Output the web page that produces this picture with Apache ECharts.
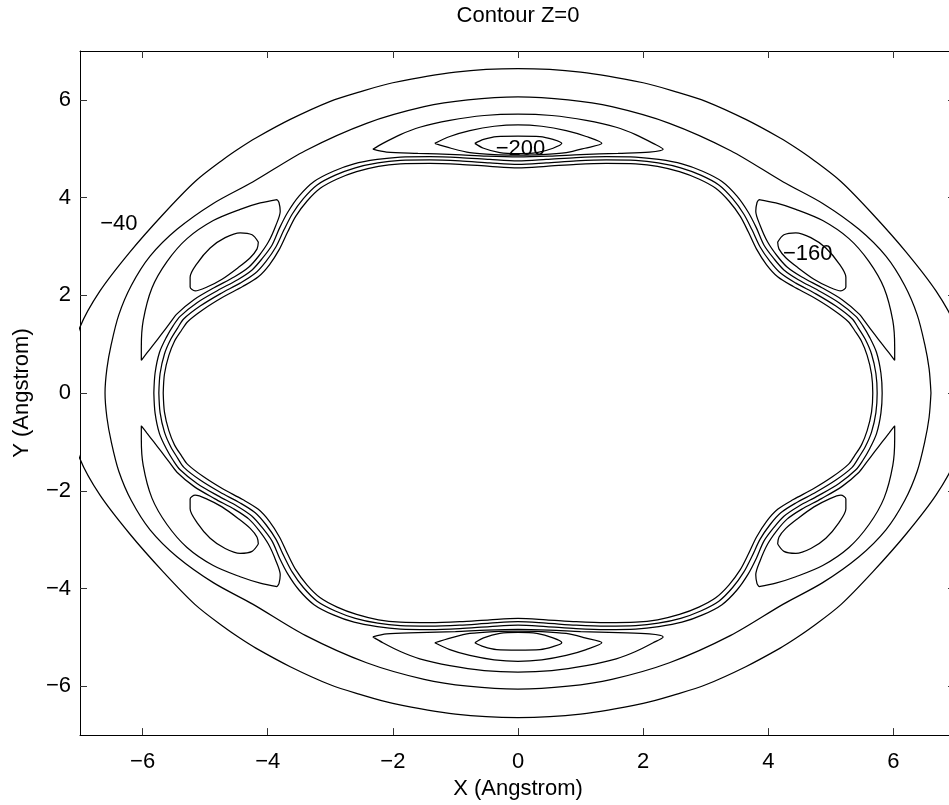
<!DOCTYPE html>
<html>
<head>
<meta charset="utf-8">
<script src="https://cdn.jsdelivr.net/npm/echarts@6/dist/echarts.min.js"></script>
<style>
html,body{margin:0;padding:0;background:#fff;overflow:hidden;width:949px;height:805px;}
#chart{width:1000px;height:805px;}
</style>
</head>
<body>
<div id="chart"></div>
<script>
// Tick values
var xTicks = [-6, -4, -2, 0, 2, 4, 6];
var yTicks = [-6, -4, -2, 0, 2, 4, 6];

// Contour level -40 (outer)
var c40 = [[7.16,0],[7.12,0.7],[7.0,1.35],[6.68,2.09],[6.2,2.89],[5.67,3.66],[5.16,4.33],[4.7,4.79],[4.44,5.02],[4.19,5.22],[3.64,5.6],[3,5.97],[2.54,6.16],[2,6.35],[1,6.57],[0,6.64],
[-1,6.57],[-2,6.35],[-2.54,6.16],[-3,5.97],[-3.64,5.6],[-4.19,5.22],[-4.44,5.02],[-4.7,4.79],[-5.16,4.33],[-5.67,3.66],[-6.2,2.89],[-6.68,2.09],[-7.0,1.35],[-7.12,0.7],[-7.16,0],
[-7.12,-0.7],[-7.0,-1.35],[-6.68,-2.09],[-6.2,-2.89],[-5.67,-3.66],[-5.16,-4.33],[-4.7,-4.79],[-4.44,-5.02],[-4.19,-5.22],[-3.64,-5.6],[-3,-5.97],[-2.54,-6.16],[-2,-6.35],[-1,-6.57],[0,-6.64],
[1,-6.57],[2,-6.35],[2.54,-6.16],[3,-5.97],[3.64,-5.6],[4.19,-5.22],[4.44,-5.02],[4.7,-4.79],[5.16,-4.33],[5.67,-3.66],[6.2,-2.89],[6.68,-2.09],[7.0,-1.35],[7.12,-0.7],[7.16,0]];

// Contour level -80 (ring)
var c80 = [[6.6,0],[6.57,0.5],[6.5,1.0],[6.38,1.6],[6.18,2.2],[5.88,2.8],[5.45,3.35],[4.87,3.88],[4.24,4.32],[3.4,4.96],[2.42,5.52],[1.5,5.86],[0.8,6.0],[0,6.06],
[-0.8,6.0],[-1.5,5.86],[-2.42,5.52],[-3.4,4.96],[-4.24,4.32],[-4.87,3.88],[-5.45,3.35],[-5.88,2.8],[-6.18,2.2],[-6.38,1.6],[-6.5,1.0],[-6.57,0.5],[-6.6,0],
[-6.57,-0.5],[-6.5,-1.0],[-6.38,-1.6],[-6.18,-2.2],[-5.88,-2.8],[-5.45,-3.35],[-4.87,-3.88],[-4.24,-4.32],[-3.4,-4.96],[-2.42,-5.52],[-1.5,-5.86],[-0.8,-6.0],[0,-6.06],
[0.8,-6.0],[1.5,-5.86],[2.42,-5.52],[3.4,-4.96],[4.24,-4.32],[4.87,-3.88],[5.45,-3.35],[5.88,-2.8],[6.18,-2.2],[6.38,-1.6],[6.5,-1.0],[6.57,-0.5],[6.6,0]];

// Inner wall contours (three closely spaced levels)
var wall1 = [[-5.82,0],[-5.8,0.41],[-5.73,0.83],[-5.62,1.14],[-5.51,1.38],[-5.4,1.57],[-5.13,1.85],[-4.8,2.1],[-4.48,2.32],[-4.25,2.52],[-4.09,2.75],[-3.93,3.03],[-3.81,3.38],[-3.68,3.7],[-3.5,4.03],[-3.26,4.33],[-2.95,4.54],[-2.62,4.69],[-2.25,4.78],[-1.88,4.83],[-1.41,4.84],[-0.93,4.82],[-0.45,4.78],[0,4.75],
[0.45,4.78],[0.93,4.82],[1.41,4.84],[1.88,4.83],[2.25,4.78],[2.62,4.69],[2.95,4.54],[3.26,4.33],[3.5,4.03],[3.68,3.7],[3.81,3.38],[3.93,3.03],[4.09,2.75],[4.25,2.52],[4.48,2.32],[4.8,2.1],[5.13,1.85],[5.4,1.57],[5.51,1.38],[5.62,1.14],[5.73,0.83],[5.8,0.41],[5.82,0],
[5.8,-0.41],[5.73,-0.83],[5.62,-1.14],[5.51,-1.38],[5.4,-1.57],[5.13,-1.85],[4.8,-2.1],[4.48,-2.32],[4.25,-2.52],[4.09,-2.75],[3.93,-3.03],[3.81,-3.38],[3.68,-3.7],[3.5,-4.03],[3.26,-4.33],[2.95,-4.54],[2.62,-4.69],[2.25,-4.78],[1.88,-4.83],[1.41,-4.84],[0.93,-4.82],[0.45,-4.78],[0,-4.75],
[-0.45,-4.78],[-0.93,-4.82],[-1.41,-4.84],[-1.88,-4.83],[-2.25,-4.78],[-2.62,-4.69],[-2.95,-4.54],[-3.26,-4.33],[-3.5,-4.03],[-3.68,-3.7],[-3.81,-3.38],[-3.93,-3.03],[-4.09,-2.75],[-4.25,-2.52],[-4.48,-2.32],[-4.8,-2.1],[-5.13,-1.85],[-5.4,-1.57],[-5.51,-1.38],[-5.62,-1.14],[-5.73,-0.83],[-5.8,-0.41],[-5.82,0]];

var wall2 = [[-5.74,0],[-5.72,0.4],[-5.65,0.8],[-5.55,1.1],[-5.44,1.33],[-5.34,1.52],[-5.08,1.78],[-4.76,2.03],[-4.44,2.25],[-4.2,2.45],[-4.03,2.69],[-3.87,2.99],[-3.74,3.34],[-3.61,3.66],[-3.43,3.98],[-3.21,4.26],[-2.92,4.46],[-2.6,4.61],[-2.24,4.71],[-1.88,4.76],[-1.41,4.77],[-0.93,4.75],[-0.45,4.71],[0,4.68],
[0.45,4.71],[0.93,4.75],[1.41,4.77],[1.88,4.76],[2.24,4.71],[2.6,4.61],[2.92,4.46],[3.21,4.26],[3.43,3.98],[3.61,3.66],[3.74,3.34],[3.87,2.99],[4.03,2.69],[4.2,2.45],[4.44,2.25],[4.76,2.03],[5.08,1.78],[5.34,1.52],[5.44,1.33],[5.55,1.1],[5.65,0.8],[5.72,0.4],[5.74,0],
[5.72,-0.4],[5.65,-0.8],[5.55,-1.1],[5.44,-1.33],[5.34,-1.52],[5.08,-1.78],[4.76,-2.03],[4.44,-2.25],[4.2,-2.45],[4.03,-2.69],[3.87,-2.99],[3.74,-3.34],[3.61,-3.66],[3.43,-3.98],[3.21,-4.26],[2.92,-4.46],[2.6,-4.61],[2.24,-4.71],[1.88,-4.76],[1.41,-4.77],[0.93,-4.75],[0.45,-4.71],[0,-4.68],
[-0.45,-4.71],[-0.93,-4.75],[-1.41,-4.77],[-1.88,-4.76],[-2.24,-4.71],[-2.6,-4.61],[-2.92,-4.46],[-3.21,-4.26],[-3.43,-3.98],[-3.61,-3.66],[-3.74,-3.34],[-3.87,-2.99],[-4.03,-2.69],[-4.2,-2.45],[-4.44,-2.25],[-4.76,-2.03],[-5.08,-1.78],[-5.34,-1.52],[-5.44,-1.33],[-5.55,-1.1],[-5.65,-0.8],[-5.72,-0.4],[-5.74,0]];

var wall3 = [[-5.67,0],[-5.65,0.39],[-5.58,0.77],[-5.49,1.06],[-5.38,1.28],[-5.28,1.46],[-5.03,1.71],[-4.72,1.96],[-4.4,2.18],[-4.15,2.38],[-3.97,2.63],[-3.81,2.95],[-3.68,3.3],[-3.55,3.62],[-3.37,3.93],[-3.16,4.19],[-2.89,4.38],[-2.58,4.53],[-2.23,4.64],[-1.88,4.69],[-1.41,4.7],[-0.93,4.68],[-0.45,4.64],[0,4.61],
[0.45,4.64],[0.93,4.68],[1.41,4.7],[1.88,4.69],[2.23,4.64],[2.58,4.53],[2.89,4.38],[3.16,4.19],[3.37,3.93],[3.55,3.62],[3.68,3.3],[3.81,2.95],[3.97,2.63],[4.15,2.38],[4.4,2.18],[4.72,1.96],[5.03,1.71],[5.28,1.46],[5.38,1.28],[5.49,1.06],[5.58,0.77],[5.65,0.39],[5.67,0],
[5.65,-0.39],[5.58,-0.77],[5.49,-1.06],[5.38,-1.28],[5.28,-1.46],[5.03,-1.71],[4.72,-1.96],[4.4,-2.18],[4.15,-2.38],[3.97,-2.63],[3.81,-2.95],[3.68,-3.3],[3.55,-3.62],[3.37,-3.93],[3.16,-4.19],[2.89,-4.38],[2.58,-4.53],[2.23,-4.64],[1.88,-4.69],[1.41,-4.7],[0.93,-4.68],[0.45,-4.64],[0,-4.61],
[-0.45,-4.64],[-0.93,-4.68],[-1.41,-4.7],[-1.88,-4.69],[-2.23,-4.64],[-2.58,-4.53],[-2.89,-4.38],[-3.16,-4.19],[-3.37,-3.93],[-3.55,-3.62],[-3.68,-3.3],[-3.81,-2.95],[-3.97,-2.63],[-4.15,-2.38],[-4.4,-2.18],[-4.72,-1.96],[-5.03,-1.71],[-5.28,-1.46],[-5.38,-1.28],[-5.49,-1.06],[-5.58,-0.77],[-5.65,-0.39],[-5.67,0]];

// Level -120: six pockets
var p120UL = [[-3.85,3.96],[-4.12,3.89],[-4.44,3.76],[-4.87,3.53],[-5.29,3.16],[-5.61,2.69],[-5.85,2.15],[-5.99,1.48],[-6.02,0.94],[-6.02,0.67],[-5.93,0.82],[-5.82,1.0],[-5.7,1.2],[-5.57,1.42],[-5.45,1.62],[-5.18,1.91],[-4.85,2.16],[-4.53,2.38],[-4.3,2.58],[-4.14,2.81],[-3.99,3.09],[-3.87,3.43],[-3.8,3.72],[-3.82,3.9],[-3.85,3.96]];
var p120UR = [[3.85,3.96],[4.12,3.89],[4.44,3.76],[4.87,3.53],[5.29,3.16],[5.61,2.69],[5.85,2.15],[5.99,1.48],[6.02,0.94],[6.02,0.67],[5.93,0.82],[5.82,1.0],[5.7,1.2],[5.57,1.42],[5.45,1.62],[5.18,1.91],[4.85,2.16],[4.53,2.38],[4.3,2.58],[4.14,2.81],[3.99,3.09],[3.87,3.43],[3.8,3.72],[3.82,3.9],[3.85,3.96]];
var p120LL = [[-3.85,-3.96],[-4.12,-3.89],[-4.44,-3.76],[-4.87,-3.53],[-5.29,-3.16],[-5.61,-2.69],[-5.85,-2.15],[-5.99,-1.48],[-6.02,-0.94],[-6.02,-0.67],[-5.93,-0.82],[-5.82,-1.0],[-5.7,-1.2],[-5.57,-1.42],[-5.45,-1.62],[-5.18,-1.91],[-4.85,-2.16],[-4.53,-2.38],[-4.3,-2.58],[-4.14,-2.81],[-3.99,-3.09],[-3.87,-3.43],[-3.8,-3.72],[-3.82,-3.9],[-3.85,-3.96]];
var p120LR = [[3.85,-3.96],[4.12,-3.89],[4.44,-3.76],[4.87,-3.53],[5.29,-3.16],[5.61,-2.69],[5.85,-2.15],[5.99,-1.48],[6.02,-0.94],[6.02,-0.67],[5.93,-0.82],[5.82,-1.0],[5.7,-1.2],[5.57,-1.42],[5.45,-1.62],[5.18,-1.91],[4.85,-2.16],[4.53,-2.38],[4.3,-2.58],[4.14,-2.81],[3.99,-3.09],[3.87,-3.43],[3.8,-3.72],[3.82,-3.9],[3.85,-3.96]];
var p120T = [[-2.32,4.99],[-2.16,5.11],[-1.88,5.29],[-1.57,5.44],[-1.09,5.58],[-0.54,5.68],[0,5.71],[0.54,5.68],[1.09,5.58],[1.57,5.44],[1.88,5.29],[2.16,5.11],[2.32,4.99],[2.1,4.93],[1.6,4.905],[1.0,4.88],[0.5,4.85],[0,4.835],[-0.5,4.85],[-1.0,4.88],[-1.6,4.905],[-2.1,4.93],[-2.32,4.99]];
var p120B = [[-2.32,-4.99],[-2.16,-5.11],[-1.88,-5.29],[-1.57,-5.44],[-1.09,-5.58],[-0.54,-5.68],[0,-5.71],[0.54,-5.68],[1.09,-5.58],[1.57,-5.44],[1.88,-5.29],[2.16,-5.11],[2.32,-4.99],[2.1,-4.93],[1.6,-4.905],[1.0,-4.88],[0.5,-4.85],[0,-4.835],[-0.5,-4.85],[-1.0,-4.88],[-1.6,-4.905],[-2.1,-4.93],[-2.32,-4.99]];

// Level -160
var p160UL = [[-4.15,3.09],[-4.25,3.24],[-4.44,3.28],[-4.68,3.18],[-4.92,2.97],[-5.13,2.65],[-5.24,2.37],[-5.24,2.17],[-5.16,2.09],[-4.97,2.17],[-4.73,2.33],[-4.47,2.57],[-4.28,2.77],[-4.17,2.95],[-4.15,3.09]];
var p160UR = [[4.15,3.09],[4.25,3.24],[4.44,3.28],[4.68,3.18],[4.92,2.97],[5.13,2.65],[5.24,2.37],[5.24,2.17],[5.16,2.09],[4.97,2.17],[4.73,2.33],[4.47,2.57],[4.28,2.77],[4.17,2.95],[4.15,3.09]];
var p160LL = [[-4.15,-3.09],[-4.25,-3.24],[-4.44,-3.28],[-4.68,-3.18],[-4.92,-2.97],[-5.13,-2.65],[-5.24,-2.37],[-5.24,-2.17],[-5.16,-2.09],[-4.97,-2.17],[-4.73,-2.33],[-4.47,-2.57],[-4.28,-2.77],[-4.17,-2.95],[-4.15,-3.09]];
var p160LR = [[4.15,-3.09],[4.25,-3.24],[4.44,-3.28],[4.68,-3.18],[4.92,-2.97],[5.13,-2.65],[5.24,-2.37],[5.24,-2.17],[5.16,-2.09],[4.97,-2.17],[4.73,-2.33],[4.47,-2.57],[4.28,-2.77],[4.17,-2.95],[4.15,-3.09]];
var p160T = [[-1.33,5.11],[-1.09,5.25],[-0.77,5.37],[-0.38,5.46],[0,5.49],[0.38,5.46],[0.77,5.37],[1.09,5.25],[1.34,5.11],[1.07,5.01],[0.77,4.92],[0.38,4.88],[0,4.87],[-0.38,4.88],[-0.77,4.92],[-1.07,5.01],[-1.33,5.11]];
var p160B = [[-1.33,-5.11],[-1.09,-5.25],[-0.77,-5.37],[-0.38,-5.46],[0,-5.49],[0.38,-5.46],[0.77,-5.37],[1.09,-5.25],[1.34,-5.11],[1.07,-5.01],[0.77,-4.92],[0.38,-4.88],[0,-4.87],[-0.38,-4.88],[-0.77,-4.92],[-1.07,-5.01],[-1.33,-5.11]];

// Level -200
var p200T = [[-0.69,5.11],[-0.55,5.19],[-0.34,5.25],[0,5.26],[0.35,5.25],[0.56,5.19],[0.7,5.11],[0.56,5.01],[0.3,4.92],[0,4.9],[-0.29,4.92],[-0.55,5.01],[-0.69,5.11]];
var p200B = [[-0.69,-5.11],[-0.55,-5.19],[-0.34,-5.25],[0,-5.26],[0.35,-5.25],[0.56,-5.19],[0.7,-5.11],[0.56,-5.01],[0.3,-4.92],[0,-4.9],[-0.29,-4.92],[-0.55,-5.01],[-0.69,-5.11]];

// Contour labels [x, y, text]
var contourLabels = [[-6.38, 3.46, '\u221240'], [4.63, 2.85, '\u2212160'], [0.04, 5.0, '\u2212200']];

var FONT = 'Liberation Sans, Arial, Helvetica, sans-serif';
function fmt(v) { return v < 0 ? '\u2212' + Math.abs(v) : String(v); }

var lines = [c40, c80, wall1, wall2, wall3, p120UL, p120UR, p120LL, p120LR, p120T, p120B,
  p160UL, p160UR, p160LL, p160LR, p160T, p160B, p200T, p200B];

var series = lines.map(function (d) {
  return {
    type: 'line', data: d, xAxisIndex: 0, yAxisIndex: 0,
    showSymbol: false, symbol: 'none', smooth: 0.3, clip: true, silent: true,
    lineStyle: { color: '#000', width: 1.25 }
  };
});
series.push({
  type: 'scatter', xAxisIndex: 0, yAxisIndex: 0, symbolSize: 0, silent: true,
  itemStyle: { opacity: 1 },
  data: contourLabels.map(function (l) { return { value: [l[0], l[1]], name: l[2] }; }),
  label: { show: true, position: 'inside', formatter: '{b}', color: '#000', opacity: 1, textBorderWidth: 0, fontSize: 22, fontFamily: FONT }
});

var axisCommon = {
  type: 'value', min: -7, max: 7,
  splitLine: { show: false },
  axisLine: { show: true, onZero: false, lineStyle: { color: '#000', width: 1 } }
};

var chart = echarts.init(document.getElementById('chart'), null, { renderer: 'canvas', width: 1000, height: 805 });
chart.setOption({
  animation: false,
  backgroundColor: '#fff',
  grid: { left: 80, top: 46, right: 44, bottom: 63, containLabel: false },
  xAxis: [
    Object.assign({}, axisCommon, {
      position: 'bottom',
      axisTick: { show: true, inside: true, length: 7, customValues: xTicks, lineStyle: { color: '#333' } },
      axisLabel: { show: true, customValues: xTicks, formatter: fmt, margin: 16, fontSize: 22, color: '#000', fontFamily: FONT },
      name: 'X (Angstrom)', nameLocation: 'middle', nameGap: 41,
      nameTextStyle: { fontSize: 22, color: '#000', fontFamily: FONT }
    }),
    Object.assign({}, axisCommon, {
      position: 'top',
      axisTick: { show: true, inside: true, length: 7, customValues: xTicks, lineStyle: { color: '#333' } },
      axisLabel: { show: false },
      name: 'Contour Z=0', nameLocation: 'middle', nameGap: 24,
      nameTextStyle: { fontSize: 22, color: '#000', fontFamily: FONT }
    })
  ],
  yAxis: [
    Object.assign({}, axisCommon, {
      position: 'left',
      axisTick: { show: true, inside: true, length: 7, customValues: yTicks, lineStyle: { color: '#333' } },
      axisLabel: { show: true, customValues: yTicks, formatter: fmt, margin: 9, fontSize: 22, color: '#000', fontFamily: FONT },
      name: 'Y (Angstrom)', nameLocation: 'middle', nameGap: 47, nameRotate: 90,
      nameTextStyle: { fontSize: 22, color: '#000', fontFamily: FONT }
    }),
    Object.assign({}, axisCommon, {
      position: 'right',
      axisTick: { show: true, inside: true, length: 8, customValues: yTicks, lineStyle: { color: '#333' } },
      axisLabel: { show: false }
    })
  ],
  series: series
});
</script>
</body>
</html>
